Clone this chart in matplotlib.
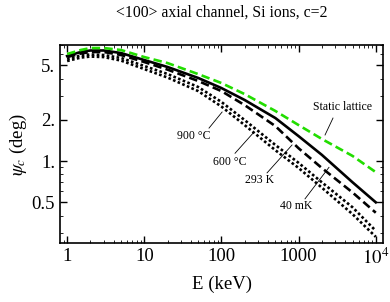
import numpy as np
import matplotlib
matplotlib.use("Agg")
import matplotlib.pyplot as plt
from matplotlib.ticker import FixedLocator, FixedFormatter, LogLocator, NullFormatter

plt.rcParams['font.family'] = ['Liberation Serif', 'DejaVu Serif']
plt.rcParams['mathtext.fontset'] = 'stix'

# energie (keV) et angle critique psi_c (deg)
energy = [1, 1.5, 2, 3, 5, 10, 20, 50, 100, 200, 500, 1000, 2000, 5000, 10000]
psi_static = [6.04, 6.46, 6.68, 6.68, 6.46, 5.74, 5.19, 4.31, 3.71, 3.08, 2.32, 1.83, 1.45, 1.09, 0.83]
psi_40mK = [5.84, 6.25, 6.41, 6.41, 6.14, 5.46, 4.86, 4.04, 3.41, 2.79, 2.06, 1.52, 1.11, 0.70, 0.50]
psi_293K = [5.74, 6.09, 6.25, 6.25, 5.94, 5.28, 4.65, 3.84, 3.24, 2.56, 1.80, 1.24, 0.89, 0.59, 0.42]
psi_600C = [5.55, 5.89, 5.99, 5.94, 5.65, 4.94, 4.32, 3.47, 2.70, 1.99, 1.31, 0.97, 0.70, 0.46, 0.31]
psi_900C = [5.37, 5.69, 5.79, 5.74, 5.41, 4.69, 4.07, 3.24, 2.50, 1.83, 1.20, 0.89, 0.64, 0.41, 0.28]

x_ticks = [1, 10, 100, 1000, 10000]
x_labels = ['1', '10', '100', '1000', r'$10^4$']
y_ticks = [0.5, 1, 2, 5]
y_labels = ['0.5', '1.', '2.', '5.']

fig = plt.figure(figsize=(3.9, 3.02), dpi=100)
ax = fig.add_axes([0.154, 0.195, 0.828, 0.656])

lw = 1.9
ax.plot(energy, psi_900C, color='black', lw=lw, linestyle=(0, (1.0, 0.9)))
ax.plot(energy, psi_600C, color='black', lw=lw, linestyle=(0, (1.0, 0.9)))
ax.plot(energy, psi_293K, color='black', lw=lw, linestyle=(0, (3.2, 1.6)))
ax.plot(energy, psi_40mK, color='black', lw=lw)
ax.plot(energy, psi_static, color='#22dd00', lw=lw, linestyle=(0, (3.2, 1.6)))

ax.set_xscale('log')
ax.set_yscale('log')
ax.set_xlim(0.81, 12400)
ax.set_ylim(0.252, 7.03)

ax.xaxis.set_major_locator(FixedLocator(x_ticks))
ax.xaxis.set_major_formatter(FixedFormatter(x_labels))
ax.yaxis.set_major_locator(FixedLocator(y_ticks))
ax.yaxis.set_major_formatter(FixedFormatter(y_labels))
ax.xaxis.set_minor_locator(LogLocator(base=10, subs=np.arange(2, 10)))
ax.yaxis.set_minor_locator(LogLocator(base=10, subs=np.arange(2, 10)))
ax.xaxis.set_minor_formatter(NullFormatter())
ax.yaxis.set_minor_formatter(NullFormatter())

ax.tick_params(which='both', direction='in', top=True, right=True, labelsize=13.5)
ax.tick_params(which='major', length=5, width=1.0)
ax.tick_params(which='minor', length=2.5, width=0.6)
for s in ax.spines.values():
    s.set_linewidth(1.2)

ax.set_xlabel('E (keV)', fontsize=13.5, labelpad=5)
ax.set_ylabel(r'$\psi_c$ (deg)', fontsize=13.5, labelpad=2)

fig.text(0.569, 0.958, '<100> axial channel, Si ions, c=2', ha='center', va='center', fontsize=11.3)

# etiquettes avec traits de rappel
notes = [
    ('Static lattice', (3760, 2.48), (2790, 2.06), (2200, 1.55)),
    ('900 °C', (44, 1.52), (69, 1.74), (102, 2.28)),
    ('600 °C', (129, 0.98), (150, 1.14), (257, 1.60)),
    ('293 K', (316, 0.73), (390, 0.82), (822, 1.31)),
    ('40 mK', (925, 0.47), (1210, 0.53), (2475, 0.90)),
]
for txt, tpos, p0, p1 in notes:
    ax.text(tpos[0], tpos[1], txt, ha='center', va='center', fontsize=8.5)
    ax.plot([p0[0], p1[0]], [p0[1], p1[1]], color='black', lw=0.6)

fig.savefig('out.png', dpi=100)
